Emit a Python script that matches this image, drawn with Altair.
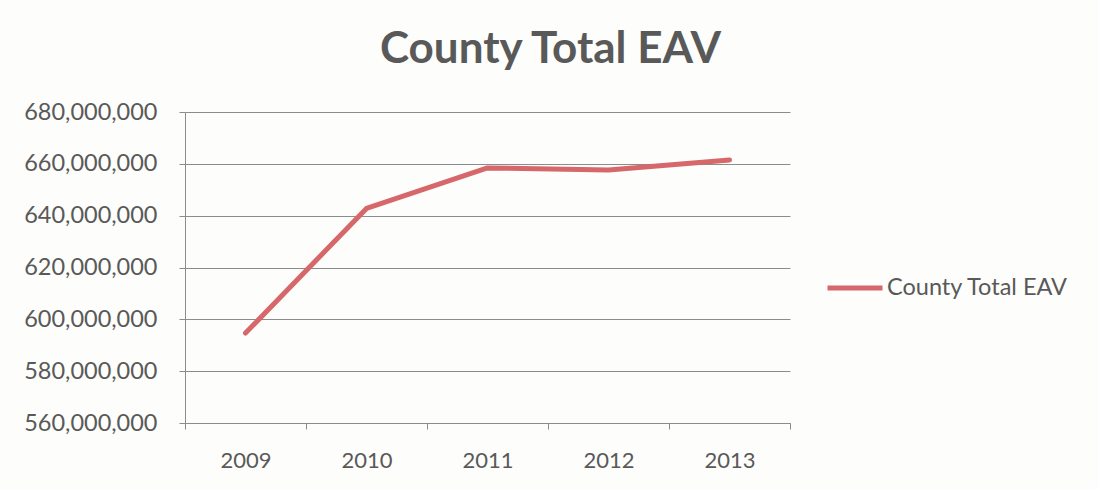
import altair as alt
import pandas as pd

years = ["2009", "2010", "2011", "2012", "2013"]
eav = [594700000, 642800000, 658400000, 657600000, 661500000]
series = ["County Total EAV"] * 5
y_ticks = [560000000, 580000000, 600000000, 620000000, 640000000, 660000000, 680000000]

df = pd.DataFrame({"Year": years, "EAV": eav, "Series": series})

TEXT = "#595959"
GRID = "#8c8c8c"
RED = "#d6676a"
FONT = "Lato"

chart = (
    alt.Chart(df)
    .mark_line(strokeWidth=5, color=RED, strokeJoin="round", strokeCap="round")
    .encode(
        x=alt.X(
            "Year:O",
            scale=alt.Scale(type="band", paddingInner=0, paddingOuter=0),
            axis=alt.Axis(
                title=None, labelAngle=0, tickBand="extent", grid=False,
                domainColor=GRID, tickColor=GRID, tickSize=6,
                labelPadding=21, labelFontSize=22, labelColor=TEXT, labelFont=FONT,
            ),
        ),
        y=alt.Y(
            "EAV:Q",
            scale=alt.Scale(domain=[560000000, 680000000], nice=False, zero=False),
            axis=alt.Axis(
                title=None, values=y_ticks, format=",d", grid=True,
                gridColor=GRID, gridWidth=1, gridOpacity=1,
                domainColor=GRID, tickColor=GRID, tickSize=6,
                labelPadding=22, labelFontSize=23.5, labelColor=TEXT, labelFont=FONT,
            ),
        ),
        stroke=alt.Stroke(
            "Series:N",
            scale=alt.Scale(range=[RED]),
            legend=alt.Legend(
                title=None, orient="none", legendX=640, legendY=146,
                symbolType="stroke", symbolSize=3025, symbolStrokeWidth=5,
                labelFontSize=23.5, labelColor=TEXT, labelFont=FONT, labelOffset=2,
                labelLimit=400,
            ),
        ),
    )
    .properties(
        width=605,
        height=311,
        title=alt.TitleParams(
            "County Total EAV", anchor="middle", dx=63, offset=28,
            fontSize=44, fontWeight="bold", color=TEXT, font=FONT,
        ),
        autosize=alt.AutoSizeParams(type="none"),
        padding={"left": 185, "top": 112, "right": 309, "bottom": 66},
        background="#fdfdfb",
    )
    .configure_view(stroke=None)
)

chart.save("out.html", embed_options={"renderer": "svg", "actions": False})
